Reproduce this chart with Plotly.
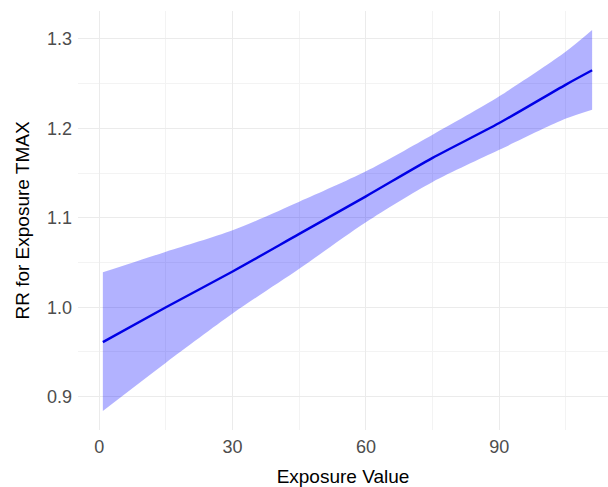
import plotly.graph_objects as go

# Data
exposure = [0.8, 15, 30, 45, 60, 75, 90, 105, 110.9]
rr = [0.961, 1.000, 1.040, 1.082, 1.124, 1.167, 1.206, 1.249, 1.265]
rr_upper = [1.039, 1.062, 1.086, 1.118, 1.152, 1.193, 1.236, 1.286, 1.310]
rr_lower = [0.884, 0.938, 0.993, 1.043, 1.095, 1.140, 1.176, 1.211, 1.221]

x_ticks = [0, 30, 60, 90]
y_ticks = [0.9, 1.0, 1.1, 1.2, 1.3]

FONT = "Liberation Sans, Arial, sans-serif"

fig = go.Figure()
fig.add_trace(go.Scatter(x=exposure, y=rr_upper, mode="lines",
                         line=dict(width=0, shape="spline", smoothing=0.8),
                         showlegend=False, hoverinfo="skip"))
fig.add_trace(go.Scatter(x=exposure, y=rr_lower, mode="lines",
                         line=dict(width=0, shape="spline", smoothing=0.8),
                         fill="tonexty", fillcolor="rgba(0,0,255,0.3)",
                         showlegend=False, hoverinfo="skip"))
fig.add_trace(go.Scatter(x=exposure, y=rr, mode="lines",
                         line=dict(color="#0000e6", width=2.4, shape="spline", smoothing=0.8),
                         showlegend=False))

fig.update_layout(
    width=608, height=487,
    margin=dict(l=78, r=0, t=11, b=57),
    paper_bgcolor="white", plot_bgcolor="white",
    font=dict(family=FONT),
    xaxis=dict(
        range=[-4.79, 114.47], tickmode="array", tickvals=x_ticks,
        ticktext=[str(v) for v in x_ticks],
        showgrid=True, gridcolor="#ebebeb", gridwidth=1.1,
        minor=dict(dtick=15, tick0=0, showgrid=True, gridcolor="#f3f3f3", gridwidth=0.8),
        zeroline=False, showline=False, ticks="",
        tickfont=dict(size=18, color="#4d4d4d", family=FONT),
        ticklabelstandoff=4,
        title=dict(text="Exposure Value", font=dict(size=19, color="black", family=FONT),
                   standoff=13),
    ),
    yaxis=dict(
        range=[0.8627, 1.3313], tickmode="array", tickvals=y_ticks,
        ticktext=[f"{v:.1f}" for v in y_ticks],
        showgrid=True, gridcolor="#ebebeb", gridwidth=1.1,
        minor=dict(dtick=0.05, tick0=0.9, showgrid=True, gridcolor="#f3f3f3", gridwidth=0.8),
        zeroline=False, showline=False, ticks="",
        tickfont=dict(size=18, color="#4d4d4d", family=FONT),
        ticklabelstandoff=5,
        title=dict(text="RR for Exposure TMAX", font=dict(size=19, color="black", family=FONT),
                   standoff=12),
    ),
)

fig.write_html(
    "out.html",
    config={"displayModeBar": False},
    post_script="document.body.style.margin='0';document.body.style.overflow='hidden';",
)
